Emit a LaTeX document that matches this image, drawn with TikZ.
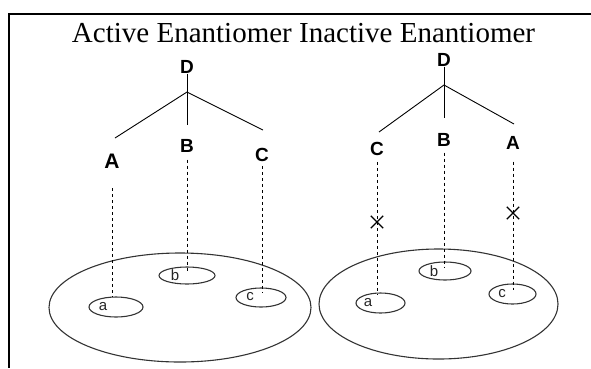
\documentclass[tikz,border=0pt]{standalone}
\usepackage{fontspec}
\setmainfont{Liberation Serif}
\newfontfamily\arialf{Liberation Sans}
\usetikzlibrary{shapes.geometric,shapes.misc,calc}
\begin{document}
\begin{tikzpicture}[x=1pt,y=-1pt,
  lbl/.style={font=\arialf\bfseries\fontsize{19}{19}\selectfont, inner sep=0pt},
  sml/.style={font=\arialf\fontsize{15}{15}\selectfont, inner sep=0pt, text=black!85},
  bond/.style={line width=0.9pt},
  dsh/.style={line width=0.8pt, dash pattern=on 3pt off 3pt},
  site/.style={ellipse, draw=black!80, line width=1.1pt, inner sep=0pt},
  xmark/.style={cross out, draw, line width=1.3pt, minimum size=11pt, inner sep=0pt}]
\useasboundingbox (0,0) rectangle (591,368);
\draw[line width=2pt] (591,13.5) -- (8.5,13.5) -- (8.5,368);
\node[font=\fontsize{29}{29}\selectfont, anchor=base, inner sep=0pt] (title) at (303.5,42) {Active Enantiomer Inactive Enantiomer};

% ---------- left: active ----------
\node[lbl] (D1) at (187,67) {D};
\coordinate (J1) at (187,92);
\coordinate (L1) at (115,138);
\coordinate (R1) at (263,130);
\coordinate (M1) at (187,125);
\draw[bond] (D1.south) -- (M1);
\draw[bond] (J1) -- (L1);
\draw[bond] (J1) -- (R1);
\node[lbl, font=\arialf\bfseries\fontsize{21}{21}\selectfont] (A1) at (112,161) {A};
\node[lbl] (B1) at (187,146) {B};
\node[lbl] (C1) at (262,155) {C};

\node[site, minimum width=262pt, minimum height=109pt] (E1) at (180,307.5) {};
\node[site, minimum width=54pt, minimum height=20pt] (sa1) at (116,307) {};
\node[site, minimum width=56pt, minimum height=17pt] (sb1) at (187,275.5) {};
\node[site, minimum width=50pt, minimum height=19pt] (sc1) at (261,297.5) {};
\node[sml] (ta1) at (103,307) {a};
\node[sml] (tb1) at (175,275) {b};
\node[sml] (tc1) at (250,297) {c};

\coordinate (ea1) at (112,297);
\coordinate (eb1) at (187,272);
\coordinate (ec1) at (262,293);
\draw[dsh] ($(A1.south)+(0,20)$) -- (ea1);
\draw[dsh] ($(B1.south)+(0,7)$) -- (eb1);
\draw[dsh] ($(C1.south)+(0,4)$) -- (ec1);

% ---------- right: inactive ----------
\node[lbl] (D2) at (444,60) {D};
\coordinate (J2) at (444,85);
\coordinate (L2) at (379,132);
\coordinate (R2) at (514,124);
\coordinate (M2) at (444,118);
\draw[bond] (D2.south) -- (M2);
\draw[bond] (J2) -- (L2);
\draw[bond] (J2) -- (R2);
\node[lbl] (C2) at (377,149) {C};
\node[lbl] (B2) at (444,140) {B};
\node[lbl] (A2) at (513,143) {A};

\node[site, minimum width=239pt, minimum height=110pt] (E2) at (438.5,304) {};
\node[site, minimum width=49pt, minimum height=20pt] (sa2) at (380.5,303) {};
\node[site, minimum width=52pt, minimum height=18pt] (sb2) at (445,271) {};
\node[site, minimum width=47pt, minimum height=20pt] (sc2) at (512.5,294) {};
\node[sml] (ta2) at (368,303) {a};
\node[sml] (tb2) at (434,271) {b};
\node[sml] (tc2) at (502,294) {c};

\coordinate (ea2) at (377,295);
\coordinate (eb2) at (444,268);
\coordinate (ec2) at (513,290);
\draw[dsh] ($(C2.south)+(0,6)$) -- (ea2);
\draw[dsh] ($(B2.south)+(0,6)$) -- (eb2);
\draw[dsh] ($(A2.south)+(0,12)$) -- (ec2);

\node[xmark] (X1) at (377,222) {};
\node[xmark] (X2) at (513,213) {};
\end{tikzpicture}
\end{document}
